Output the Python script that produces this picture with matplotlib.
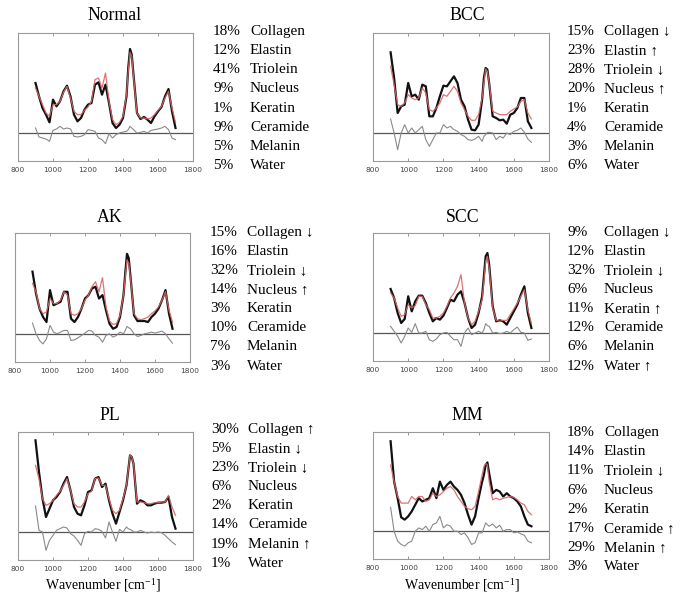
import matplotlib
matplotlib.use("Agg")
import matplotlib.pyplot as plt
import numpy as np

plt.rcParams['mathtext.fontset'] = 'stix'
SERIF = ['Liberation Serif', 'DejaVu Serif']

# wavenumber grid (cm^-1)
wavenumber = [900, 920, 940, 960, 980, 1000, 1020, 1040, 1060, 1080, 1100, 1120, 1140,
              1160, 1180, 1200, 1220, 1240, 1260, 1280, 1300, 1320, 1340, 1360, 1380,
              1400, 1420, 1430, 1440, 1450, 1460, 1480, 1500, 1520, 1540, 1560, 1580,
              1600, 1620, 1640, 1660, 1680, 1700]

# intensities (a.u.): measured (black), model fit (red), residual (gray)
normal_meas = [150, 110, 75, 55, 32, 100, 80, 95, 125, 142, 110, 55, 35, 45, 70, 85, 90, 145, 152, 115, 145, 90, 30, 15, 25, 45, 110, 195, 252, 235, 175, 60, 42, 48, 40, 30, 50, 65, 78, 110, 132, 65, 15]
normal_fit = [135, 110, 85, 60, 50, 85, 85, 95, 122, 140, 105, 65, 55, 55, 68, 78, 95, 160, 165, 135, 180, 95, 40, 25, 32, 50, 115, 185, 242, 230, 170, 60, 45, 45, 42, 45, 55, 68, 80, 105, 125, 75, 32]
normal_res = [15, -12, -15, -18, -25, 8, 12, 20, 12, 15, 12, -10, -12, -10, -5, 10, 8, 5, -15, -20, -32, -2, -15, -5, 0, 3, 5, 10, 20, 15, 10, 0, 2, 5, 0, 8, 10, 12, 15, 20, 10, -15, -20]

bcc_meas = [242, 165, 60, 80, 85, 150, 110, 115, 100, 145, 140, 50, 50, 75, 110, 142, 140, 155, 170, 150, 100, 80, 40, 10, 8, 25, 100, 165, 195, 190, 150, 50, 45, 38, 40, 28, 55, 60, 75, 105, 105, 35, 15]
bcc_fit = [200, 145, 85, 80, 90, 115, 105, 100, 105, 135, 120, 70, 65, 75, 90, 115, 110, 125, 140, 125, 90, 70, 50, 38, 38, 55, 105, 150, 192, 185, 150, 65, 60, 55, 55, 55, 65, 72, 78, 95, 100, 60, 42]
bcc_res = [42, 0, -50, 0, 25, 0, 15, 0, 10, 20, -20, -40, -20, 0, 0, 25, 15, 20, 10, 5, -5, -10, -20, -22, -18, -10, -25, -10, -5, 2, 2, 0, -20, -10, -15, 0, -5, 5, 8, 15, 2, -18, -28]

ak_meas = [185, 120, 75, 50, 35, 130, 85, 90, 95, 125, 125, 45, 35, 50, 75, 105, 115, 135, 140, 105, 115, 70, 30, 15, 20, 50, 115, 180, 238, 225, 170, 55, 38, 38, 38, 35, 50, 60, 75, 100, 130, 60, 15]
ak_fit = [150, 125, 75, 60, 65, 105, 90, 90, 100, 125, 115, 60, 55, 60, 75, 100, 115, 140, 155, 125, 167, 80, 38, 28, 30, 55, 115, 170, 220, 210, 165, 60, 45, 42, 45, 50, 60, 68, 80, 100, 125, 70, 35]
ak_res = [32, 0, -20, -30, -15, 25, 5, 0, 5, 10, 10, -20, -18, -12, -5, 2, 10, 8, -5, -10, -25, -5, 0, -10, -5, 5, 0, 10, 22, 18, 15, 0, -8, -5, 0, 2, 5, 2, 5, 8, 0, -15, -28]

scc_meas = [132, 105, 60, 30, 42, 110, 65, 95, 112, 112, 90, 60, 35, 45, 40, 52, 75, 100, 95, 115, 125, 90, 45, 15, 25, 60, 110, 170, 230, 240, 205, 80, 35, 38, 35, 25, 45, 65, 85, 115, 140, 60, 15]
scc_fit = [120, 105, 75, 50, 55, 85, 75, 82, 110, 110, 85, 70, 45, 45, 50, 60, 80, 105, 120, 140, 175, 90, 45, 25, 35, 65, 100, 155, 215, 230, 195, 75, 38, 35, 38, 38, 55, 72, 90, 110, 130, 70, 28]
scc_res = [20, 5, -10, -30, -10, 15, 2, 28, 0, 0, 5, -20, -25, -18, -5, 0, 2, -10, -20, -20, -40, 0, 15, -5, 0, 5, 0, 10, 28, 22, 20, 0, 2, -2, 0, 5, 0, 10, 18, 2, 0, -22, -18]

pl_meas = [275, 180, 100, 45, 70, 95, 105, 120, 145, 165, 125, 75, 55, 50, 80, 120, 125, 160, 165, 135, 145, 95, 55, 25, 60, 95, 140, 185, 230, 225, 205, 85, 95, 90, 80, 80, 85, 88, 88, 90, 105, 45, 10]
pl_fit = [200, 160, 100, 80, 85, 95, 110, 122, 140, 160, 125, 85, 75, 75, 90, 115, 122, 160, 162, 140, 140, 100, 65, 55, 65, 100, 140, 185, 232, 225, 205, 90, 90, 88, 85, 85, 88, 88, 90, 90, 110, 75, 50]
pl_res = [78, 5, 0, -55, -25, -10, 5, 10, 15, 12, -5, -12, -25, -40, -5, 2, 0, 10, 8, 2, -18, 30, 0, -28, 8, 0, 15, 10, 8, 5, 0, 0, 5, 0, -3, 0, -2, 0, -2, -10, -20, -30, -38]

mm_meas = [272, 150, 100, 42, 35, 45, 60, 80, 100, 90, 95, 100, 130, 100, 150, 125, 140, 150, 135, 125, 110, 85, 50, 20, 45, 100, 150, 170, 200, 208, 175, 115, 125, 120, 105, 115, 105, 100, 90, 75, 45, 20, 15]
mm_fit = [200, 150, 105, 85, 85, 85, 105, 95, 105, 105, 90, 95, 115, 105, 110, 120, 130, 135, 125, 105, 90, 75, 68, 65, 75, 120, 170, 195, 205, 200, 150, 95, 100, 95, 100, 102, 105, 102, 95, 85, 80, 60, 50]
mm_res = [72, 0, -30, -40, -45, -35, -30, 0, 10, 5, 15, 0, 20, 25, 45, 10, 20, 15, 0, 0, -10, -5, -20, -40, -35, -5, -5, 10, 25, 20, 15, 22, 10, 18, 0, 5, 5, -5, -2, -8, -12, -30, -35]

titles = ['Normal', 'BCC', 'AK', 'SCC', 'PL', 'MM']
components = ['Collagen', 'Elastin', 'Triolein', 'Nucleus', 'Keratin', 'Ceramide', 'Melanin', 'Water']
percent = {
    'Normal': [18, 12, 41, 9, 1, 9, 5, 5],
    'BCC': [15, 23, 28, 20, 1, 4, 3, 6],
    'AK': [15, 16, 32, 14, 3, 10, 7, 3],
    'SCC': [9, 12, 32, 6, 11, 12, 6, 12],
    'PL': [30, 5, 23, 6, 2, 14, 19, 1],
    'MM': [18, 14, 11, 6, 2, 17, 29, 3],
}
trend = {
    'Normal': ['', '', '', '', '', '', '', ''],
    'BCC': ['↓', '↑', '↓', '↑', '', '', '', ''],
    'AK': ['↓', '', '↓', '↑', '', '', '', ''],
    'SCC': ['↓', '', '↓', '', '↑', '', '', '↑'],
    'PL': ['↑', '↓', '↓', '', '', '', '↑', ''],
    'MM': ['', '', '↓', '', '', '↑', '↑', ''],
}
spectra = {
    'Normal': (normal_meas, normal_fit, normal_res),
    'BCC': (bcc_meas, bcc_fit, bcc_res),
    'AK': (ak_meas, ak_fit, ak_res),
    'SCC': (scc_meas, scc_fit, scc_res),
    'PL': (pl_meas, pl_fit, pl_res),
    'MM': (mm_meas, mm_fit, mm_res),
}
xticks = [800, 1000, 1200, 1400, 1600, 1800]

W, H = 684, 602
fig = plt.figure(figsize=(W / 100, H / 100), dpi=100)

# layout in pixels: axes (left, top, right, bottom), title center, pct x, name x, first row y
layout = {
    'Normal': ((18, 33, 193, 161), (115, 15), 213, 250, 31.7),
    'BCC': ((373, 33, 549, 161), (467, 15), 567, 604, 31.7),
    'AK': ((15, 233, 190, 362), (110, 217), 210, 247, 232.3),
    'SCC': ((373, 233, 549, 361), (463, 217), 567, 604, 232.3),
    'PL': ((18, 432, 193, 560), (110, 415), 211, 248, 429.5),
    'MM': ((373, 432, 549, 559), (467, 415), 567, 604, 432.7),
}
row_step = 19.1

def fx(px):
    return px / W

def fy(py):
    return 1 - py / H

for name in titles:
    (l, t, r, b), (tx, ty), px_pct, px_name, y0 = layout[name]
    ax = fig.add_axes([fx(l), fy(b), (r - l) / W, (b - t) / H])
    meas, fit, res = spectra[name]
    ax.axhline(0, color='#555555', lw=0.9, zorder=1)
    ax.plot(wavenumber, res, color='#8a8a8a', lw=0.8, zorder=2)
    ax.plot(wavenumber, meas, color='#111111', lw=1.6, zorder=3)
    ax.plot(wavenumber, fit, color='#d86464', lw=0.9, alpha=0.9, zorder=4)
    ax.set_xlim(800, 1800)
    ax.set_ylim(-84, 300)
    ax.set_xticks(xticks)
    ax.set_yticks([])
    ax.tick_params(axis='x', direction='in', length=2, width=0.6, color='#888888',
                   labelsize=5.3, labelcolor='#444444', pad=4, top=True)
    for s in ax.spines.values():
        s.set_color('#9a9a9a')
        s.set_linewidth(0.8)
    fig.text(fx(tx), fy(ty), name, ha='center', va='center', fontsize=12.8,
             family=SERIF)
    for i, comp in enumerate(components):
        yy = fy(y0 + i * row_step)
        fig.text(fx(px_pct), yy, f"{percent[name][i]}%", ha='left', va='center',
                 fontsize=11, family=SERIF)
        lab = comp + ((' ' + trend[name][i]) if trend[name][i] else '')
        fig.text(fx(px_name), yy, lab, ha='left', va='center', fontsize=11,
                 family=SERIF)

for cx in (103, 462):
    fig.text(fx(cx), fy(585), 'Wavenumber [cm$^{\\mathregular{-1}}$]', ha='center',
             va='center', fontsize=10, family=SERIF)

fig.savefig('out.png', dpi=100)
